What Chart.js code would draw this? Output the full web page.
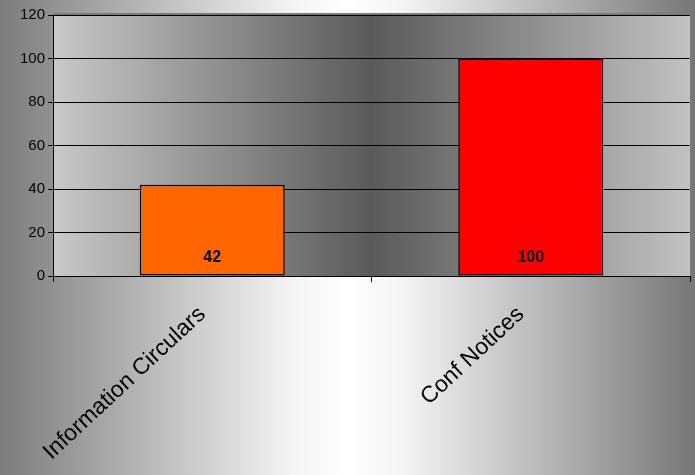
<!DOCTYPE html>
<html>
<head>
<meta charset="utf-8">
<script src="https://cdn.jsdelivr.net/npm/chart.js@4.4.1/dist/chart.umd.min.js"></script>
<style>
html, body { margin: 0; padding: 0; overflow: hidden; }
</style>
</head>
<body>
<canvas id="myChart" width="695" height="475"></canvas>
<script>
var categories = ['Information Circulars', 'Conf Notices'];
var counts = [42, 100];
var barColors = ['#ff6600', '#ff0000'];
var yMin = 0, yMax = 120, yStep = 20;

Chart.defaults.font.family = '"Liberation Sans", Arial, sans-serif';
Chart.defaults.color = '#000';

// page + plot area gradients
var backdrop = {
  id: 'backdrop',
  beforeDraw: function(chart) {
    var c = chart.ctx, a = chart.chartArea;
    var g = c.createLinearGradient(0, 0, chart.width, 0);
    g.addColorStop(0, '#7c7c7c');
    g.addColorStop(0.42, '#f4f4f4');
    g.addColorStop(0.5, '#ffffff');
    g.addColorStop(0.58, '#f4f4f4');
    g.addColorStop(1, '#777777');
    c.save();
    c.fillStyle = g;
    c.fillRect(0, 0, chart.width, chart.height);
    var g2 = c.createLinearGradient(a.left, 0, a.right, 0);
    g2.addColorStop(0, '#c9c9c9');
    g2.addColorStop(0.5, '#5a5a5a');
    g2.addColorStop(1, '#c2c2c2');
    c.fillStyle = g2;
    c.fillRect(a.left, a.top, a.right - a.left, a.bottom - a.top);
    c.strokeStyle = '#7a7a7a';
    c.lineWidth = 2;
    c.beginPath();
    c.moveTo(a.left, a.top - 1);
    c.lineTo(a.right + 1, a.top - 1);
    c.lineTo(a.right + 1, a.bottom);
    c.stroke();
    c.restore();
  }
};

// value inside bar, near the bottom
var barValues = {
  id: 'barValues',
  afterDatasetsDraw: function(chart) {
    var c = chart.ctx;
    var meta = chart.getDatasetMeta(0);
    c.save();
    c.font = 'bold 16px "Liberation Sans", Arial, sans-serif';
    c.fillStyle = '#000';
    c.textAlign = 'center';
    c.textBaseline = 'middle';
    meta.data.forEach(function(bar, i) {
      c.fillText(String(counts[i]), bar.x, bar.base - 18);
    });
    c.restore();
  }
};

var ctx = document.getElementById('myChart').getContext('2d');
var chartOne = new Chart(ctx, {
  type: 'bar',
  data: {
    labels: categories,
    datasets: [{
      data: counts,
      backgroundColor: barColors,
      borderColor: '#000',
      borderWidth: 1.5,
      borderSkipped: false,
      categoryPercentage: 1,
      barPercentage: 0.455
    }]
  },
  options: {
    responsive: false,
    animation: false,
    layout: { padding: { top: 15, right: 5, left: 0, bottom: 0 } },
    plugins: { legend: { display: false }, tooltip: { enabled: false } },
    scales: {
      x: {
        grid: { offset: true, drawOnChartArea: false, drawTicks: true, tickLength: 6, color: '#000' },
        border: { color: '#000', width: 1 },
        ticks: {
          autoSkip: false, minRotation: 43, maxRotation: 43,
          font: { size: 23 }, color: '#000', padding: 19, labelOffset: -10
        },
        afterFit: function(scale) { scale.height = 199; }
      },
      y: {
        min: yMin, max: yMax,
        ticks: { stepSize: yStep, font: { size: 15 }, color: '#000', padding: 3 },
        grid: { color: '#000', lineWidth: 1, tickLength: 5 },
        border: { color: '#000', width: 1 },
        afterFit: function(scale) { scale.width = 53; }
      }
    }
  },
  plugins: [backdrop, barValues]
});
</script>
</body>
</html>
